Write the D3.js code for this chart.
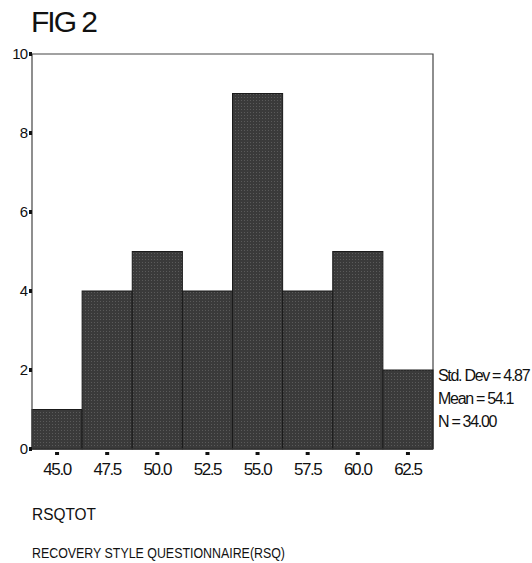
<!DOCTYPE html>
<html>
<head>
<meta charset="utf-8">
<script src="https://cdn.jsdelivr.net/npm/d3@7"></script>
<style>
  body { margin: 0; background: #fff; }
  text { font-family: "Liberation Sans", Arial, sans-serif; fill: #111; }
</style>
</head>
<body>
<div id="chart"></div>
<script>
// histogram bins (midpoints) and counts
var binMids = [45.0, 47.5, 50.0, 52.5, 55.0, 57.5, 60.0, 62.5];
var counts = [1, 4, 5, 4, 9, 4, 5, 2];
var binWidth = 2.5;
var yTicks = [0, 2, 4, 6, 8, 10];
var statLines = ['Std. Dev = 4.87', 'Mean = 54.1', 'N = 34.00'];

var width = 532, height = 563;
var mLeft = 32, mRight = 433, mTop = 54, mBottom = 449;

var svg = d3.select('#chart').append('svg')
  .attr('width', width)
  .attr('height', height);

// dithered dark fill like the scanned print
var pat = svg.append('defs').append('pattern')
  .attr('id', 'dots')
  .attr('width', 3).attr('height', 3)
  .attr('patternUnits', 'userSpaceOnUse');
pat.append('rect').attr('width', 3).attr('height', 3).attr('fill', '#3a3a3a');
pat.append('rect').attr('x', 1).attr('y', 1).attr('width', 1).attr('height', 1).attr('fill', '#5a5a5a');

var x = d3.scaleLinear()
  .domain([binMids[0] - binWidth / 2, binMids[binMids.length - 1] + binWidth / 2])
  .range([mLeft, mRight]);
var y = d3.scaleLinear().domain([0, 10]).range([mBottom, mTop]);

// title
svg.append('text')
  .attr('x', 31).attr('y', 32)
  .style('font-size', '30px')
  .style('letter-spacing', '-2px')
  .text('FIG 2');

// frame: top + right
svg.append('path')
  .attr('d', 'M' + mLeft + ',' + mTop + 'H' + mRight + 'V' + mBottom)
  .attr('fill', 'none')
  .attr('stroke', '#444')
  .attr('stroke-width', 1.2);

// bars
svg.selectAll('rect.bar')
  .data(binMids)
  .enter().append('rect')
  .attr('class', 'bar')
  .attr('x', function(d) { return x(d - binWidth / 2); })
  .attr('width', function(d) { return x(d + binWidth / 2) - x(d - binWidth / 2); })
  .attr('y', function(d, i) { return y(counts[i]); })
  .attr('height', function(d, i) { return y(0) - y(counts[i]); })
  .attr('fill', 'url(#dots)')
  .attr('stroke', '#1a1a1a')
  .attr('stroke-width', 1);

// axes lines
svg.append('line')
  .attr('x1', mLeft).attr('x2', mLeft).attr('y1', mTop).attr('y2', mBottom)
  .attr('stroke', '#444').attr('stroke-width', 1.2);
svg.append('line')
  .attr('x1', mLeft).attr('x2', mRight).attr('y1', mBottom).attr('y2', mBottom)
  .attr('stroke', '#333').attr('stroke-width', 1.5);

// y ticks
var yt = svg.selectAll('g.ytick').data(yTicks).enter().append('g').attr('class', 'ytick');
yt.append('rect')
  .attr('x', mLeft - 3).attr('y', function(d) { return y(d) - 2; })
  .attr('width', 3).attr('height', 4).attr('fill', '#111');
yt.append('text')
  .attr('x', mLeft - 5).attr('y', function(d) { return y(d) + 5; })
  .attr('text-anchor', 'end')
  .style('font-size', '15px')
  .style('letter-spacing', '-1px')
  .text(function(d) { return d; });

// x ticks
var xt = svg.selectAll('g.xtick').data(binMids).enter().append('g').attr('class', 'xtick');
xt.append('rect')
  .attr('x', function(d) { return x(d) - 2; }).attr('y', mBottom + 3)
  .attr('width', 4).attr('height', 3).attr('fill', '#111');
xt.append('text')
  .attr('x', function(d) { return x(d); }).attr('y', mBottom + 26)
  .attr('text-anchor', 'middle')
  .style('font-size', '17px')
  .style('letter-spacing', '-1.4px')
  .text(function(d) { return d.toFixed(1); });

// stats
svg.selectAll('text.stat').data(statLines).enter().append('text')
  .attr('class', 'stat')
  .attr('x', 438)
  .attr('y', function(d, i) { return 381 + i * 23; })
  .style('font-size', '16px')
  .style('letter-spacing', '-1.3px')
  .text(function(d) { return d; });

// variable labels
svg.append('text')
  .attr('x', 32).attr('y', 520)
  .attr('textLength', 64).attr('lengthAdjust', 'spacingAndGlyphs')
  .style('font-size', '16px')
  .text('RSQTOT');
svg.append('text')
  .attr('x', 32).attr('y', 558)
  .attr('textLength', 253).attr('lengthAdjust', 'spacingAndGlyphs')
  .style('font-size', '14px')
  .text('RECOVERY STYLE QUESTIONNAIRE(RSQ)');
</script>
</body>
</html>
